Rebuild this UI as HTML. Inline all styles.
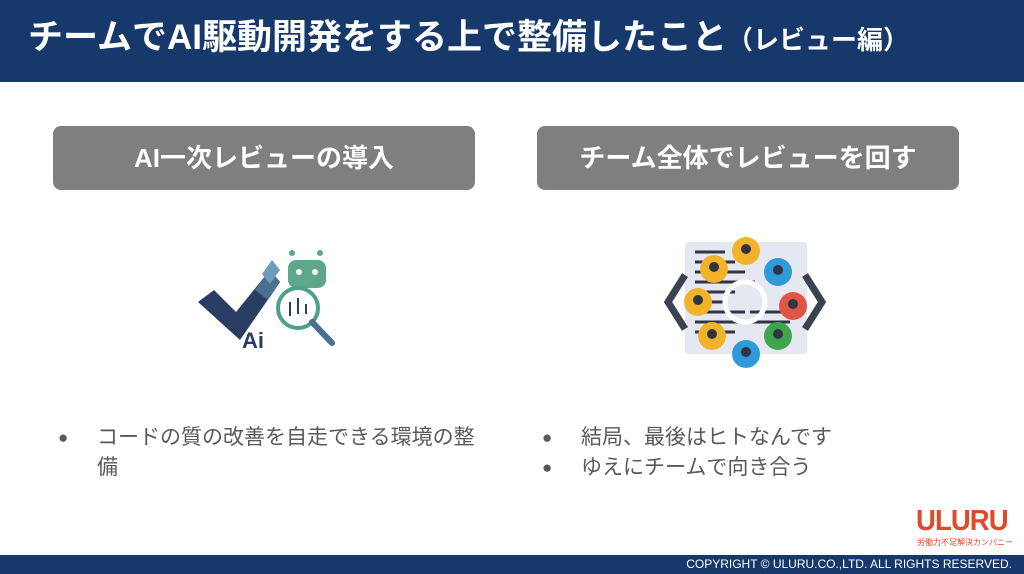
<!DOCTYPE html>
<html><head><meta charset="utf-8"><style>
body{margin:0;width:1024px;height:574px;position:relative;background:#fff;font-family:"Liberation Sans","Noto Sans CJK JP",sans-serif;overflow:hidden}
.hdr{position:absolute;left:0;top:0;width:1024px;height:82px;background:#17386a;color:#fff;font-weight:bold;font-size:35px;line-height:82px;}
.hdr span{position:absolute;left:28px;top:-3px;white-space:nowrap}
.box{position:absolute;top:126px;height:64px;background:#7f7f7f;border-radius:8px;color:#fff;font-weight:bold;font-size:26px;line-height:64px;text-align:center}
.bl{position:absolute;color:#595959;font-size:21px;line-height:30px}
.bl .d{position:absolute;left:0;font-size:17px}
.ft{position:absolute;left:0;top:555px;width:1024px;height:19px;background:#17386a;color:#fff;font-size:12px;line-height:19px}
</style></head><body>
<div class="hdr"><span>チームでAI駆動開発をする上で整備したこと<span style="position:static;font-size:26px">（レビュー編）</span></span></div>
<div class="box" style="left:53px;width:422px">AI一次レビューの導入</div>
<div class="box" style="left:537px;width:422px">チーム全体でレビューを回す</div>

<svg style="position:absolute;left:180px;top:230px" width="170" height="130" viewBox="0 0 170 130">
<path d="M18 72 L34 60 L56 82 L90 40 L100 52 L60 110 Z" fill="#2a3e63"/>
<path d="M75 60 L90 40 L100 52 L88 70 Z" fill="#4a6f92"/>
<path d="M82 44 L92 30 L100 40 L90 54 Z" fill="#6f9bbd"/>
<circle cx="112" cy="23" r="3" fill="#5fa78a"/><circle cx="140" cy="23" r="3" fill="#5fa78a"/>
<rect x="108" y="30" width="38" height="28" rx="8" fill="#5fa78a"/>
<circle cx="119" cy="42" r="3" fill="#fff"/><circle cx="135" cy="42" r="3" fill="#fff"/>
<circle cx="118" cy="78" r="20" fill="#fff" stroke="#4fa08a" stroke-width="4"/>
<path d="M110 72v14M118 68v16M126 74v10" stroke="#2a3e63" stroke-width="2"/>
<line x1="132" y1="92" x2="152" y2="113" stroke="#4a6f92" stroke-width="6" stroke-linecap="round"/>
<text x="62" y="118" font-size="22" font-weight="bold" fill="#2a3e63" font-family="Liberation Sans">Ai</text>
</svg>

<svg style="position:absolute;left:650px;top:230px" width="190" height="140" viewBox="0 0 190 140">
<rect x="35" y="12" width="122" height="112" rx="3" fill="#e5e8f1"/>
<g stroke="#2f3542" stroke-width="3"><path d="M45 22h30M45 32h40M45 42h50M45 52h60M45 62h40M45 72h30M45 82h50M45 92h60M45 102h40M100 82h50M100 92h40"/></g>
<path d="M35 45 L18 72 L35 99" fill="none" stroke="#3a4150" stroke-width="7"/>
<path d="M155 45 L172 72 L155 99" fill="none" stroke="#3a4150" stroke-width="7"/>
<circle cx="95" cy="72" r="20" fill="none" stroke="#fff" stroke-width="5"/>
<g><circle cx="96" cy="21" r="14" fill="#f2b32a"/><circle cx="64" cy="39" r="14" fill="#f2b32a"/><circle cx="128" cy="42" r="14" fill="#2f9ad8"/><circle cx="48" cy="72" r="14" fill="#f2b32a"/><circle cx="143" cy="76" r="14" fill="#e05545"/><circle cx="62" cy="106" r="14" fill="#f2b32a"/><circle cx="128" cy="106" r="14" fill="#3fa54c"/><circle cx="96" cy="124" r="14" fill="#2f9ad8"/></g>
<g fill="#2f3542"><circle cx="96" cy="19" r="5"/><circle cx="64" cy="37" r="5"/><circle cx="128" cy="40" r="5"/><circle cx="48" cy="70" r="5"/><circle cx="143" cy="74" r="5"/><circle cx="62" cy="104" r="5"/><circle cx="128" cy="104" r="5"/><circle cx="96" cy="122" r="5"/></g>
</svg>

<div class="bl" style="left:58px;top:423px;width:428px"><span class="d">●</span><div style="margin-left:39px">コードの質の改善を自走できる環境の整備</div></div>
<div class="bl" style="left:542px;top:423px;width:430px"><span class="d">●</span><div style="margin-left:39px">結局、最後はヒトなんです</div></div>
<div class="bl" style="left:542px;top:453px;width:430px"><span class="d">●</span><div style="margin-left:39px">ゆえにチームで向き合う</div></div>

<div style="position:absolute;left:916px;top:507px;color:#e0492a;font-weight:bold;font-size:29px;line-height:28px;letter-spacing:-1px;transform:scaleX(0.95);transform-origin:left">ULURU</div>
<div style="position:absolute;left:917px;top:538px;color:#e0492a;font-size:8px;line-height:10px">労働力不足解決カンパニー</div>
<div class="ft"><span style="position:absolute;right:12px">COPYRIGHT © ULURU.CO.,LTD. ALL RIGHTS RESERVED.</span></div>
</body></html>
